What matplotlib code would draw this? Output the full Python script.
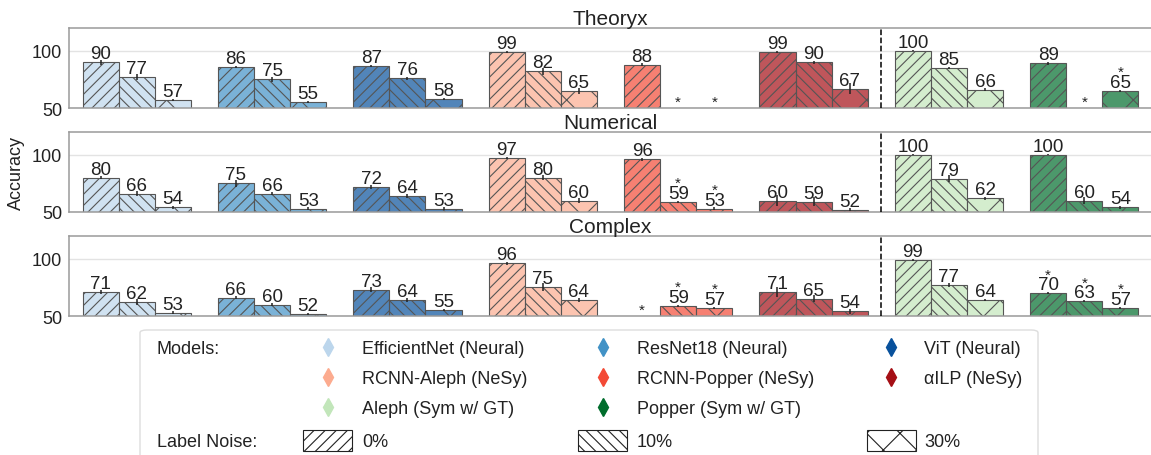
import numpy as np
import matplotlib
matplotlib.use('Agg')
import matplotlib.pyplot as plt
from matplotlib.patches import Rectangle, FancyBboxPatch
from matplotlib.lines import Line2D
from matplotlib.colors import to_rgba

plt.rcParams['font.family'] = ['Liberation Sans', 'DejaVu Sans']
plt.rcParams['hatch.linewidth'] = 0.8
plt.rcParams['hatch.color'] = '#444444'

nan = np.nan
datasets = ['Theoryx', 'Numerical', 'Complex']
models = ['EfficientNet (Neural)', 'ResNet18 (Neural)', 'ViT (Neural)',
          'RCNN-Aleph (NeSy)', 'RCNN-Popper (NeSy)', 'αILP (NeSy)',
          'Aleph (Sym w/ GT)', 'Popper (Sym w/ GT)']
colors = ['#bcd6ec', '#4292c6', '#08519c', '#fcab8f', '#f34a36', '#a50f15',
          '#c2e6ba', '#006d2c']
noise_levels = ['0%', '10%', '30%']
hatches = ['///', '\\\\\\', 'x']

theoryx = [[90, 77, 57], [86, 75, 55], [87, 76, 58], [99, 82, 65],
           [88, nan, nan], [99, 90, 67], [100, 85, 66], [89, nan, 65]]
theoryx_err = [[2, 2.5, 1], [1, 2, 1], [1, 1.5, 1], [1, 3, 2.5],
               [1, 0, 0], [1, 1.5, 5], [0.5, 1, 1.5], [1, 0, 1]]
theoryx_star = [[0, 0, 0], [0, 0, 0], [0, 0, 0], [0, 0, 0],
                [0, 1, 1], [0, 0, 0], [0, 0, 0], [0, 1, 1]]

numerical = [[80, 66, 54], [75, 66, 53], [72, 64, 53], [97, 80, 60],
             [96, 59, 53], [60, 59, 52], [100, 79, 62], [100, 60, 54]]
numerical_err = [[1.5, 2, 1], [3, 1.5, 1], [1.5, 1.5, 1], [1, 2, 2.5],
                 [1, 1, 1], [5, 4, 1.5], [0.5, 3, 1.5], [0.5, 3, 1]]
numerical_star = [[0, 0, 0], [0, 0, 0], [0, 0, 0], [0, 0, 0],
                  [0, 1, 1], [0, 0, 0], [0, 0, 0], [0, 0, 0]]

complex_ = [[71, 62, 53], [66, 60, 52], [73, 64, 55], [96, 75, 64],
            [nan, 59, 57], [71, 65, 54], [99, 77, 64], [70, 63, 57]]
complex_err = [[2, 2.5, 1], [1.5, 1, 1], [2, 1.5, 1], [1, 3.5, 2],
               [0, 1, 1], [4, 3, 2], [1, 1.5, 1], [1, 1, 1]]
complex_star = [[0, 0, 0], [0, 0, 0], [0, 0, 0], [0, 0, 0],
                [1, 1, 1], [0, 0, 0], [0, 0, 0], [1, 1, 1]]

all_vals = [theoryx, numerical, complex_]
all_errs = [theoryx_err, numerical_err, complex_err]
all_stars = [theoryx_star, numerical_star, complex_star]

W, H = 1151, 456
fig = plt.figure(figsize=(W / 100, H / 100), dpi=100)

def fx(px):
    return px / W

def fy(py):
    return 1 - py / H

axes_tops = [29, 133, 237]
ax_h = 80
left_px, right_px = 69, 1152
bw = 0.8 / 3
x = np.arange(len(models))

axes = []
for k, name in enumerate(datasets):
    top = axes_tops[k]
    ax = fig.add_axes([fx(left_px), fy(top + ax_h), fx(right_px - left_px), ax_h / H])
    axes.append(ax)
    vals = np.array(all_vals[k], dtype=float)
    errs = np.array(all_errs[k], dtype=float)
    stars = np.array(all_stars[k])
    ax.set_axisbelow(True)
    ax.grid(axis='y', color='#e3e3e3', lw=1)
    for j in range(3):
        xs = x + (j - 1) * bw
        fcs = [to_rgba(c, 0.7) for c in colors]
        ax.bar(xs, vals[:, j], bw, color=fcs, edgecolor='#555555',
               linewidth=0.8, hatch=hatches[j], zorder=2)
        ax.errorbar(xs, vals[:, j], yerr=errs[:, j], fmt='none', ecolor='#222222',
                    elinewidth=1.1, capsize=0, zorder=3)
        for i in range(len(models)):
            v = vals[i, j]
            if np.isnan(v):
                ax.annotate('*', (xs[i], 50), xytext=(0, -0.8), textcoords='offset points',
                            ha='center', va='bottom', fontsize=11, color='#222222',
                            annotation_clip=False)
                continue
            ax.annotate(f'{v:.0f}', (xs[i], v), xytext=(0, 0), textcoords='offset points',
                        ha='center', va='bottom', fontsize=13.5, color='#222222')
            if stars[i, j]:
                ax.annotate('*', (xs[i], v), xytext=(0, 8.5), textcoords='offset points',
                            ha='center', va='bottom', fontsize=11, color='#222222')
    ax.axvline(5.5, color='black', ls='--', lw=1.1, zorder=4)
    ax.set_xlim(-0.5, 7.5)
    ax.set_ylim(50, 120)
    ax.set_yticks([50, 100])
    ax.set_xticks([])
    ax.tick_params(axis='y', length=0, pad=5, labelsize=13, colors='#222222')
    for s in ax.spines.values():
        s.set_color('#9a9a9a')
        s.set_linewidth(1.1)
    ax.set_title(name, fontsize=15, pad=1, color='#222222')

axes[1].set_ylabel('Accuracy', fontsize=13, labelpad=5, color='#222222')

# Legend (custom layout)
frame = FancyBboxPatch((fx(140), fy(472)), fx(1038 - 140), (472 - 331) / H,
                       boxstyle='round,pad=0,rounding_size=0.006',
                       transform=fig.transFigure, facecolor='white',
                       edgecolor='#dddddd', linewidth=1, clip_on=False)
fig.add_artist(frame)

txt_kw = dict(fontsize=13, va='center', ha='left', color='#222222')
fig.text(fx(157), fy(350), 'Models:', **txt_kw)
fig.text(fx(157), fy(443), 'Label Noise:', **txt_kw)

diamond_x = [328, 603, 891]
text_x = [362, 637, 924]
row_y = [350, 380, 410]
for i, (m, c) in enumerate(zip(models, colors)):
    r, cidx = divmod(i, 3)
    fig.add_artist(Line2D([fx(diamond_x[cidx])], [fy(row_y[r] - 2)], marker='d',
                          markersize=9.2, color=c, linestyle='none',
                          transform=fig.transFigure))
    fig.text(fx(text_x[cidx]), fy(row_y[r]), m, **txt_kw)

patch_x = [303, 578, 867]
for j, (lab, h) in enumerate(zip(noise_levels, hatches)):
    fig.add_artist(Rectangle((fx(patch_x[j]), fy(452)), fx(49), 21 / H,
                             facecolor='white', edgecolor='#222222', linewidth=0.8,
                             hatch=h, transform=fig.transFigure))
    fig.text(fx(text_x[j]), fy(443), lab, **txt_kw)

fig.savefig('out.png', dpi=100)
